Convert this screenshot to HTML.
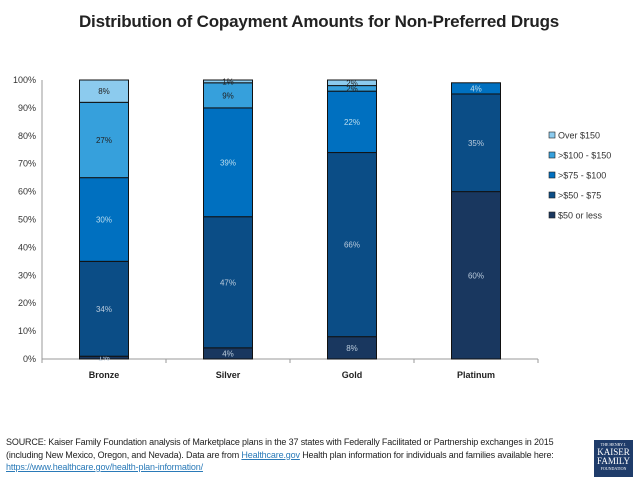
<!DOCTYPE html>
<html><head><meta charset="utf-8"><style>
body{margin:0;background:#fff;font-family:"Liberation Sans",sans-serif;}
#wrap{position:relative;width:638px;height:479px;overflow:hidden;}
.title{position:absolute;left:0;width:638px;top:12px;text-align:center;font-weight:bold;font-size:17px;color:#222;letter-spacing:-0.2px;}
.src{position:absolute;left:6px;top:436px;font-size:9px;line-height:12.5px;color:#222;letter-spacing:-0.15px;}
.src a{color:#2a7ab8;text-decoration:underline;}
.logo{position:absolute;left:594px;top:440px;width:39px;height:37px;background:#1f3c6a;color:#fff;font-family:"Liberation Serif",serif;text-align:center;font-size:9px;line-height:9px;}
</style></head><body>
<div id="wrap">
<div class="title">Distribution of Copayment Amounts for Non-Preferred Drugs</div>
<svg id="chart" width="638" height="420" style="position:absolute;left:0;top:0"></svg>
<div class="src">SOURCE: Kaiser Family Foundation analysis of Marketplace plans in the 37 states with Federally Facilitated or Partnership exchanges in 2015<br>(including New Mexico, Oregon, and Nevada). Data are from <a>Healthcare.gov</a> Health plan information for individuals and families available here:<br><a>https://www.healthcare.gov/health-plan-information/</a></div>
<div class="logo"><div style="font-size:4px;line-height:6px;margin-top:2px">THE HENRY J.</div>KAISER<br>FAMILY<div style="font-size:4px;line-height:6px">FOUNDATION</div></div>
</div>
<script>
const categories=["Bronze","Silver","Gold","Platinum"];
const seriesNames=["$50 or less",">$50 - $75",">$75 - $100",">$100 - $150","Over $150"];
const s50=[1,4,8,60];
const s75=[34,47,66,35];
const s100=[30,39,22,4];
const s150=[27,9,2,0];
const sOver=[8,1,2,0];
const yTicks=[0,10,20,30,40,50,60,70,80,90,100];
const series=[s50,s75,s100,s150,sOver];
const colors=["#19375f","#0b4d86","#0070c0","#36a0dc","#8ccbee"];
const labelColors=["#bcd","#bcd","#bde","#222","#222"];
const NS="http://www.w3.org/2000/svg";
const svg=document.getElementById('chart');
const x0=42,x1=538,y0=359,y1=80;
const yS=v=>y0-(y0-y1)*v/100;
const cw=(x1-x0)/categories.length;
const bw=49;
function el(t,a){const e=document.createElementNS(NS,t);for(const k in a)e.setAttribute(k,a[k]);svg.appendChild(e);return e;}
yTicks.forEach(t=>{
  const tx=el('text',{x:36,y:yS(t)+3,'text-anchor':'end','font-size':9,fill:'#333'});
  
  
  tx.textContent=t+'%';
});
const ax=el('line',{x1:x0,y1:y0,x2:x1,y2:y0,stroke:'#999'});


const ay=el('line',{x1:x0,y1:y1,x2:x0,y2:y0,stroke:'#999'});


for(let i=0;i<=categories.length;i++){el('line',{x1:x0+i*cw,y1:y0,x2:x0+i*cw,y2:y0+4,stroke:'#999'});}
categories.forEach((c,i)=>{
  const cx=x0+cw*(i+0.5);
  let acc=0;
  series.forEach((s,k)=>{
    const v=s[i]; if(!v)return;
    const top=yS(acc+v),bot=yS(acc);
    const r=el('rect',{x:cx-bw/2,y:top,width:bw,height:bot-top,fill:colors[k],stroke:'#111','stroke-width':1});
    
    
    const t=el('text',{x:cx,y:(top+bot)/2+3,'text-anchor':'middle','font-size':8,fill:labelColors[k]});
    
    
    t.textContent=v+'%';
    acc+=v;
  });
  const lb=el('text',{x:cx,y:378,'text-anchor':'middle','font-size':9,'font-weight':'bold',fill:'#222'});
  
  
  lb.textContent=c;
});
for(let k=4;k>=0;k--){
  const y=137+(4-k)*20;
  const r=el('rect',{x:549,y:y-5,width:6,height:6,fill:colors[k],stroke:'#222','stroke-width':0.6});
  
  
  const t=el('text',{x:558,y:y+1.5,'font-size':9,fill:'#333'});
  
  
  t.textContent=seriesNames[k];
}
</script>
</body></html>
